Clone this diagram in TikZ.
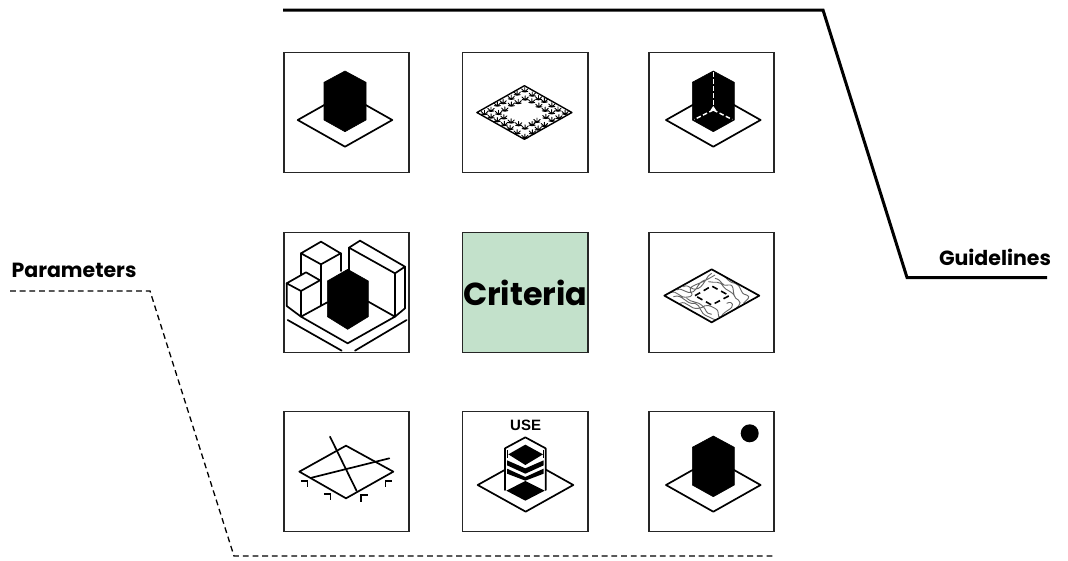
\documentclass[tikz,border=0pt]{standalone}
\usepackage{fontspec}
\setmainfont{Poppins}
\newfontfamily\helv{Liberation Sans}
\definecolor{criteriagreen}{HTML}{C3E1CB}
\tikzset{
  tile/.style={draw=black!85,line width=1.8pt,minimum width=125.5pt,minimum height=120pt,inner sep=0pt,outer sep=0pt},
  ink/.style={line width=1.7pt,line join=round,line cap=round},
  mass/.style={fill=black,draw=black,line width=.6pt,line join=round},
  heading/.style={font=\bfseries\fontsize{20.5}{22}\selectfont,inner sep=0pt},
  zoomed/.style={x=.3333pt,y=-.3333pt},
}
\newcommand{\plotbase}{\draw[ink] (-47.3,0)--(0,-26.7)--(47.3,0)--(0,26.7)--cycle;}
\newcommand{\plotmass}{\path[mass] (0,-49)--(-21,-37.7)--(-21,0)--(0,11.7)--(21,0)--(21,-37.7)--cycle;}
\begin{document}
\begin{tikzpicture}[x=1pt,y=-1pt]
\useasboundingbox (0,0) rectangle (1068,560);
% tiles
\node[tile] (a1) at (346.5,112.5) {};
\node[tile] (a2) at (525.2,112.5) {};
\node[tile] (a3) at (711.5,112.5) {};
\node[tile] (b1) at (346.5,292.5) {};
\node[tile,fill=criteriagreen,font=\bfseries\fontsize{31.8}{34}\selectfont] (b2) at (525.2,292.5) {Criteria};
\node[tile] (b3) at (711.5,292.5) {};
\node[tile] (c1) at (346.5,471.5) {};
\node[tile] (c2) at (525.2,471.5) {};
\node[tile] (c3) at (711.5,471.5) {};
% a1: massing on plot
\begin{scope}[shift={(345,120)}]
  \plotbase \plotmass
\end{scope}
% a2: planted plot
\begin{scope}[shift={(524.4,112.5)}]
  \pgfmathsetseed{11}
  \foreach \u in {-.86,-.57,-.29,0,.29,.57,.86}{
    \foreach \v in {-.86,-.57,-.29,0,.29,.57,.86}{
      \pgfmathsetmacro{\keep}{(abs(\u)<.35 && abs(\v)<.35) ? 0 : 1}
      \pgfmathtruncatemacro{\keepint}{\keep}
      \ifnum\keepint>0
        \pgfmathsetmacro{\tx}{(\u+\v)*47.3/2+rand*1.2}
        \pgfmathsetmacro{\ty}{(\v-\u)*26.7/2+rand*1}
        \draw[line width=.9pt,line cap=round,shift={(\tx,\ty)}]
          (0,2.2)--(0,-2.2) (0,2.2)--(-3.2,-1) (0,2.2)--(3.2,-1) (0,2.2)--(-3,1.6) (0,2.2)--(3,1.6);
      \fi
    }
  }
  \draw[line width=1.4pt,line join=round] (-47.5,0)--(0,-26.8)--(47.5,0)--(0,26.8)--cycle;
\end{scope}
% a3: massing with axes
\begin{scope}[shift={(713.3,120)}]
  \plotbase \plotmass
  \draw[white,line width=1.5pt,dash pattern=on 4.5pt off 2.5pt] (0,-48)--(0,-15);
  \draw[white,line width=1.5pt,dash pattern=on 4.5pt off 2.5pt] (0,-10)--(-19,-.5);
  \draw[white,line width=1.5pt,dash pattern=on 4.5pt off 2.5pt] (0,-10)--(19,-.5);
  \fill[white] (0,-14)--(-3,-9.5)--(3,-9.5)--cycle;
\end{scope}
% b1: context buildings
\begin{scope}[shift={(275,225)},zoomed]
  \draw[ink] (78,85)--(138,50)--(197,85)--(138,118)--cycle;
  \draw[ink] (78,85)--(78,150) (138,118)--(138,240) (197,85)--(197,138);
  \draw[ink] (35,175)--(93,142)--(135,166)--(78,198)--cycle;
  \draw[ink] (35,175)--(35,243)--(78,275)--(78,198);
  \draw[ink] (222,68)--(255,47)--(390,125)--(360,145)--cycle;
  \draw[ink] (222,68)--(222,140) (360,145)--(360,275) (390,125)--(390,250)--(360,275);
  \draw[ink] (78,275)--(157,232) (78,275)--(218,355)--(360,275)--(280,230);
  \draw[ink] (38,285)--(200,377) (240,377)--(395,285);
  \path[mass] (218,133)--(157,168)--(157,275)--(218,313)--(280,275)--(280,168)--cycle;
\end{scope}
% b3: contoured plot
\begin{scope}[shift={(640,225)},zoomed]
  \begin{scope}
    \clip (73,212)--(215,133)--(358,212)--(215,292)--cycle;
    \draw[black!60,line width=.9pt]
      (85,205) .. controls (120,190) and (110,225) .. (150,215) .. controls (170,205) and (130,195) .. (165,180) .. controls (190,170) and (200,165) .. (225,150)
      (100,215) .. controls (130,205) and (135,240) .. (165,235) .. controls (185,240) and (175,265) .. (205,275) .. controls (215,280) and (225,285) .. (230,285)
      (120,235) .. controls (140,225) and (150,255) .. (175,250) .. controls (195,250) and (190,230) .. (225,250) .. controls (245,260) and (225,280) .. (245,275)
      (130,185) .. controls (150,175) and (150,200) .. (175,190) .. controls (195,180) and (200,150) .. (215,145)
      (110,195) .. controls (130,185) and (135,210) .. (160,200) .. controls (175,190) and (170,175) .. (195,165)
      (225,160) .. controls (250,165) and (240,185) .. (265,180) .. controls (290,175) and (270,215) .. (295,225) .. controls (310,235) and (290,250) .. (275,258)
      (240,145) .. controls (265,160) and (260,170) .. (285,175) .. controls (310,185) and (295,205) .. (320,210) .. controls (335,215) and (320,225) .. (310,235)
      (260,155) .. controls (285,175) and (300,170) .. (315,185) .. controls (325,195) and (340,195) .. (345,205)
      (260,235) .. controls (280,225) and (285,245) .. (265,255) .. controls (250,265) and (245,270) .. (240,280)
      (205,170) .. controls (225,175) and (240,165) .. (250,185) .. controls (255,195) and (280,200) .. (285,215)
      (140,220) .. controls (155,235) and (170,225) .. (190,245) .. controls (200,255) and (195,265) .. (215,268);
    \fill[white] (165,212)--(215,183)--(268,212)--(215,240)--cycle;
  \end{scope}
  \draw[line width=1.6pt,dash pattern=on 6pt off 4pt] (165,212)--(215,183)--(268,212)--(215,240)--cycle;
  \draw[ink] (73,212)--(215,133)--(358,212)--(215,292)--cycle;
\end{scope}
% c1: parcel lines
\begin{scope}[shift={(275,405)},zoomed]
  \draw[ink] (73,200)--(213,122)--(355,200)--(213,280)--cycle;
  \draw[ink] (165,95)--(245,258) (110,218)--(343,160);
  \draw[line width=1.6pt] (78,228)--(97,228)--(97,247) (147,267)--(166,267)--(166,285)
    (278,270)--(258,270)--(258,290) (350,228)--(332,228)--(332,247);
\end{scope}
% c2: use stack
\begin{scope}[shift={(455,405)},zoomed]
  \draw[ink] (68,240)--(212,160)--(355,240)--(212,320)--cycle;
  \path[fill=white] (150,243)--(150,130)--(212,95)--(272,130)--(272,243)--(212,278)--cycle;
  \node[inner sep=0pt,font=\helv\bfseries\fontsize{15}{16}\selectfont] (usetag) at (212,62) {USE};
\end{scope}
\begin{scope}[shift={(495,430)},zoomed]
  \draw[ink] (30,180)--(30,55)--(91,22)--(152,55)--(152,180);
  \draw[line width=.9pt] (38,60)--(38,85) (144,60)--(144,85);
  \fill (34,182)--(91,153)--(149,182)--(91,212)--cycle;
  \fill (36,116)--(91,141)--(146,116)--(146,131)--(91,152)--(36,131)--cycle;
  \fill (36,91)--(91,115)--(146,91)--(146,106)--(91,131)--(36,106)--cycle;
  \fill (40,73)--(91,44)--(144,73)--(91,105)--cycle;
  \draw[white,line width=.8pt] (91,133)--(91,139);
\end{scope}
% c3: massing with sun
\begin{scope}[shift={(713.3,485)}]
  \plotbase \plotmass
\end{scope}
\node[circle,fill=black,minimum size=18pt,inner sep=0pt] (sun) at (749.7,433.3) {};
% headings and leader lines
\node[heading,anchor=center] (param) at (74,270) {Parameters};
\node[heading,anchor=center] (guide) at (995,257) {Guidelines};
\coordinate (g1) at (283,10);
\coordinate (g2) at (823,10);
\coordinate (g3) at (907,277.5);
\coordinate (g4) at (1047,277.5);
\draw[line width=3pt,line join=miter] (g1)--(g2)--(g3)--(g4);
\coordinate (p1) at (10,291);
\coordinate (p2) at (150,291);
\coordinate (p3) at (234,556);
\coordinate (p4) at (775,556);
\draw[line width=1.3pt,dash pattern=on 5.8pt off 3.9pt] (p1)--(p2)--(p3)--(p4);
\end{tikzpicture}
\end{document}
